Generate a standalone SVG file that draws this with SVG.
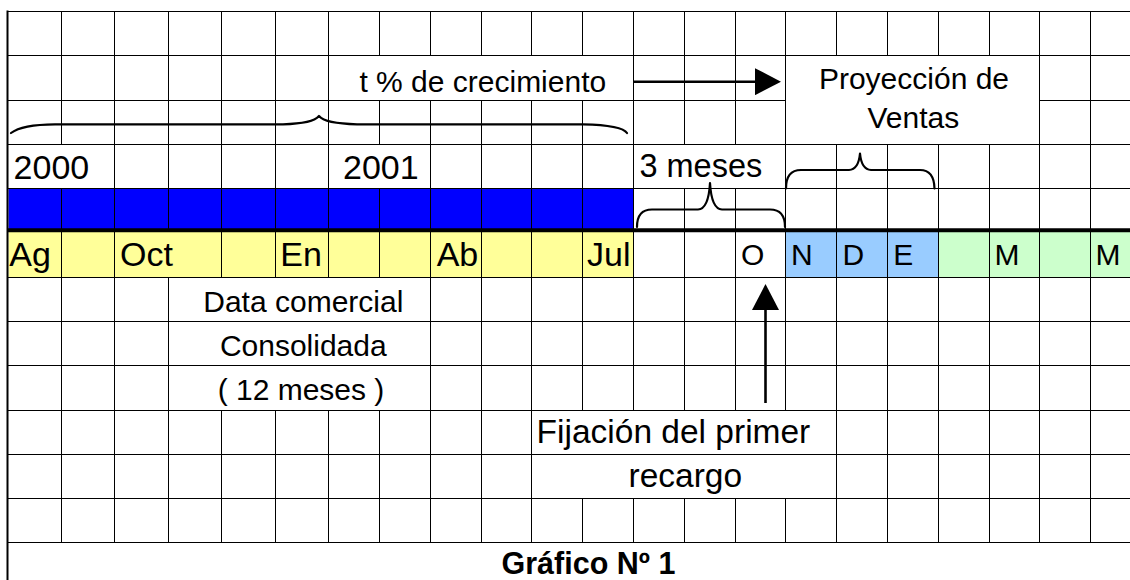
<svg xmlns="http://www.w3.org/2000/svg" width="1130" height="580" viewBox="0 0 1130 580">
<style>
.grid{stroke:#000;stroke-width:1;fill:none}
.txt{font-family:"Liberation Sans",Arial,sans-serif;fill:#000}
.s30{font-size:30px}
.s32{font-size:32.5px}
.s34{font-size:34px}
.mid{text-anchor:middle}
.brace{fill:none;stroke:#000;stroke-width:2.2;stroke-linecap:round;stroke-linejoin:round}
.conn{stroke:#000;stroke-width:2.6;fill:none}
</style>
<defs>
<marker id="head" viewBox="0 0 26 27" refX="0" refY="13.5" markerWidth="26" markerHeight="27" markerUnits="userSpaceOnUse" orient="auto">
<path d="M0,0 L26,13.5 L0,27 Z" fill="#000"/>
</marker>
</defs>
<rect width="1130" height="580" fill="#fff"/>
<g id="fills">
<rect x="8.5" y="188.5" width="625" height="41.8" fill="#0000FF"/>
<rect x="8.5" y="230.3" width="625" height="47.2" fill="#FFFF99"/>
<rect x="785.5" y="230.3" width="153" height="47.2" fill="#99CCFF"/>
<rect x="938.5" y="230.3" width="191.5" height="47.2" fill="#CCFFCC"/>
</g>
<g id="grid" class="grid">
<path d="M7,11.5H1130 M7,55.5H1130 M7,100.5H785.5 M1039.5,100.5H1130 M7,144.5H1130 M7,188.5H1130 M7,277.5H1130 M7,321.5H1130 M7,365.5H1130 M7,410.5H1130 M7,454.5H1130 M7,498.5H1130 M7,542.5H1130"/>
<path d="M61.5,11.5V144.5 M61.5,188.5V542.5
M114.5,11.5V542.5
M168.5,11.5V230 M168.5,277.5V542.5
M221.5,11.5V277.5 M221.5,410.5V542.5
M275.5,11.5V277.5 M275.5,410.5V542.5
M328.5,11.5V277.5 M328.5,410.5V542.5
M379.5,11.5V55.5 M379.5,100.5V144.5 M379.5,188.5V277.5 M379.5,410.5V542.5
M430.5,11.5V55.5 M430.5,100.5V542.5
M481.5,11.5V55.5 M481.5,100.5V542.5
M531.5,11.5V55.5 M531.5,100.5V542.5
M582.5,11.5V55.5 M582.5,100.5V410.5 M582.5,498.5V542.5
M633.5,11.5V410.5 M633.5,498.5V542.5
M684.5,11.5V144.5 M684.5,188.5V410.5 M684.5,498.5V542.5
M735.5,11.5V144.5 M735.5,188.5V410.5 M735.5,498.5V542.5
M785.5,11.5V410.5 M785.5,498.5V542.5
M836.5,11.5V55.5 M836.5,144.5V542.5
M887.5,11.5V55.5 M887.5,144.5V542.5
M938.5,11.5V55.5 M938.5,144.5V542.5
M989.5,11.5V55.5 M989.5,144.5V542.5
M1039.5,11.5V542.5
M1090.5,11.5V542.5"/>
<path d="M7.5,10.5V580" stroke-width="2"/>
<path d="M7,230.3H1130" stroke-width="4"/>
</g>
<g id="crecimiento"><text class="txt s30 mid" x="482.8" y="91.7">t % de crecimiento</text></g>
<g id="proyeccion"><text class="txt s30 mid" x="914" y="89.3">Proyección de</text><text class="txt s30 mid" x="913.3" y="128.3">Ventas</text></g>
<g id="y2000"><text class="txt s34" x="13.6" y="179.3">2000</text></g>
<g id="y2001"><text class="txt s34" x="343" y="178.5">2001</text></g>
<g id="tres-meses"><text class="txt s32" x="639.4" y="176.7">3 meses</text></g>
<g id="meses-data">
<text class="txt s34" x="9.3" y="266">Ag</text>
<text class="txt s34" x="120" y="266">Oct</text>
<text class="txt s34" x="280.3" y="266">En</text>
<text class="txt s34" x="436.7" y="266">Ab</text>
<text class="txt s34" x="587" y="266">Jul</text>
</g>
<g id="mes-o"><text class="txt s30" x="741" y="265">O</text></g>
<g id="meses-proyeccion">
<text class="txt s30" x="791" y="265">N</text>
<text class="txt s30" x="842.6" y="265">D</text>
<text class="txt s30" x="893.3" y="265">E</text>
</g>
<g id="meses-siguientes">
<text class="txt s30" x="994.5" y="265">M</text>
<text class="txt s30" x="1095.5" y="265">M</text>
</g>
<g id="data-comercial">
<text class="txt s30 mid" x="303.3" y="311.7">Data comercial</text>
<text class="txt s30 mid" x="303.3" y="356">Consolidada</text>
<text class="txt s30 mid" x="301" y="400">( 12 meses )</text>
</g>
<g id="fijacion">
<text class="txt" style="font-size:33.5px" x="536.6" y="442.7">Fijación del primer</text>
<text class="txt mid" style="font-size:33.5px" x="685.3" y="487">recargo</text>
</g>
<g id="titulo"><text class="txt" style="font-size:30.5px;font-weight:bold" x="501.5" y="573.5">Gráfico Nº 1</text></g>
<g id="braces" class="brace">
<path d="M11,133 Q22,124.5 55,124.3 L283,124.3 Q313,123.5 319,116 Q325,123.5 357,124.3 L583,124.3 Q622,125 627,133"/>
<path d="M637,227 Q637,209.5 652,209.5 L698,209.5 Q708.5,209 710,183 Q711.5,209 722,209.5 L770,209.5 Q785,209.5 785,227"/>
<path d="M786,188.5 Q786,170 801,170 L849,170 Q858.5,169.5 860,153.5 Q861.5,169.5 871,170 L920,170 Q934,170 934.5,188.5"/>
</g>
<g id="connectors" class="conn">
<path d="M633.5,81.7H755" marker-end="url(#head)"/>
<path d="M765.5,403V310" marker-end="url(#head)"/>
</g>
</svg>
